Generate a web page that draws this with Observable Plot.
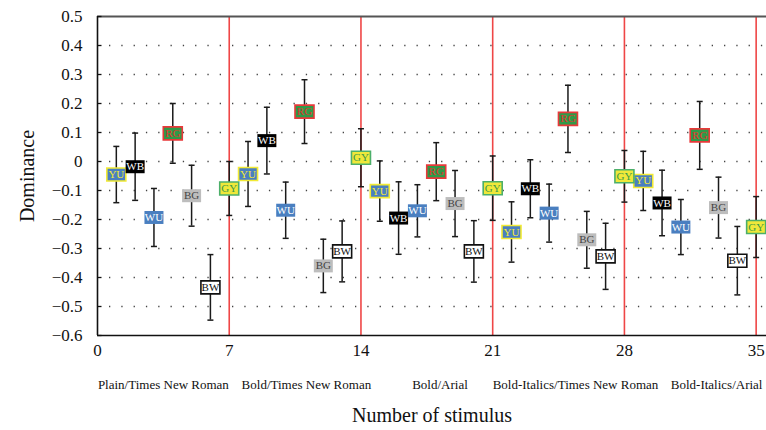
<!DOCTYPE html>
<html><head><meta charset="utf-8">
<script src="https://cdn.jsdelivr.net/npm/d3@7"></script>
<script src="https://cdn.jsdelivr.net/npm/@observablehq/plot@0.6"></script>
<style>body{margin:0;background:#fff}svg{display:block}svg text{font-family:"Liberation Serif","DejaVu Serif",serif !important;font-variant-numeric:normal !important}</style>
</head><body><div id="chart"></div>
<script>
// ---- data ----
const colorCodes = ["YU","WB","WU","RG","BG","BW","GY"];
const groupNames = ["Plain/Times New Roman","Bold/Times New Roman","Bold/Arial","Bold-Italics/Times New Roman","Bold-Italics/Arial"];
const groupLabelX = [3.5, 11.1, 18.2, 25.4, 32.9];
const separatorX = [7, 14, 21, 28, 35];
const xTicks = [0, 7, 14, 21, 28, 35];
const yTicks = [-0.6,-0.5,-0.4,-0.3,-0.2,-0.1,0,0.1,0.2,0.3,0.4,0.5];
const gridY = [-0.5,-0.4,-0.3,-0.2,-0.1,0,0.1,0.2,0.3,0.4];
const means = [
  -0.045,-0.018,-0.193, 0.097,-0.118,-0.434,-0.093,
  -0.043, 0.072,-0.168, 0.172,-0.360,-0.310, 0.013,
  -0.102,-0.195,-0.170,-0.035,-0.145,-0.310,-0.092,
  -0.243,-0.094,-0.178, 0.147,-0.270,-0.327,-0.051,
  -0.067,-0.143,-0.226, 0.090,-0.159,-0.342,-0.226
];
const errors = [
  0.097,0.116,0.100,0.103,0.105,0.113,0.093,
  0.112,0.115,0.097,0.110,0.092,0.105,0.100,
  0.104,0.125,0.090,0.100,0.114,0.106,0.111,
  0.104,0.100,0.100,0.116,0.098,0.114,0.089,
  0.102,0.113,0.095,0.117,0.105,0.118,0.105
];

// ---- styles ----
const styles = {
  YU:{fill:"#4a7fc0", stroke:"#f2ea35", text:"#f2ea35"},
  WB:{fill:"#000000", stroke:"none",    text:"#ffffff"},
  WU:{fill:"#4a7fc0", stroke:"none",    text:"#ffffff"},
  RG:{fill:"#2f9a48", stroke:"#e8393a", text:"#e0352f"},
  BG:{fill:"#bdbdbd", stroke:"none",    text:"#444444"},
  BW:{fill:"#ffffff", stroke:"#111111", text:"#111111"},
  GY:{fill:"#efe83a", stroke:"#4caf6a", text:"#3c9a48"}
};
const serif = "Liberation Serif, DejaVu Serif, serif";

const rows = means.map((m, i) => ({stim: i + 1, code: colorCodes[i % 7], mean: m, lo: m - errors[i], hi: m + errors[i]}));

const boxSymbol = {draw(ctx){ ctx.rect(-9.5, -6.5, 19, 13); }};
const capSymbol = {draw(ctx){ ctx.moveTo(-3, 0); ctx.lineTo(3, 0); }};
const yTickSymbol = {draw(ctx){ ctx.moveTo(0, 0); ctx.lineTo(4, 0); }};

const chart = Plot.plot({
  width: 766,
  height: 430,
  marginLeft: 97,
  marginRight: 0,
  marginTop: 16,
  marginBottom: 95,
  style: {fontFamily: serif, background: "#fff", color: "#111"},
  x: {domain: [0, 35.55]},
  y: {domain: [-0.6, 0.5]},
  marks: [
    Plot.ruleY(gridY, {stroke: "#444", strokeWidth: 1.3, strokeDasharray: "1.3,11", strokeDashoffset: -12}),
    Plot.ruleX(separatorX, {stroke: "#ef4646", strokeWidth: 1.6}),
    Plot.ruleY([0.5], {stroke: "#555", strokeWidth: 2}),
    Plot.ruleY([-0.6], {stroke: "#111", strokeWidth: 1.6}),
    Plot.ruleX([0], {stroke: "#111", strokeWidth: 1.6}),
    Plot.dot(yTicks, {x: 0, y: d => d, symbol: yTickSymbol, stroke: "#111", strokeWidth: 1.3, fill: "none"}),
    Plot.ruleX(rows, {x: "stim", y1: "lo", y2: "hi", stroke: "#1a1a1a", strokeWidth: 1.5}),
    Plot.dot(rows, {x: "stim", y: "lo", symbol: capSymbol, stroke: "#1a1a1a", strokeWidth: 1.5, fill: "none"}),
    Plot.dot(rows, {x: "stim", y: "hi", symbol: capSymbol, stroke: "#1a1a1a", strokeWidth: 1.5, fill: "none"}),
    ...colorCodes.flatMap(c => [
      Plot.dot(rows.filter(d => d.code === c), {x: "stim", y: "mean", symbol: boxSymbol, fill: styles[c].fill, stroke: styles[c].stroke, strokeWidth: 1.6}),
      Plot.text(rows.filter(d => d.code === c), {x: "stim", y: "mean", text: "code", fill: styles[c].text, fontSize: 11, fontFamily: serif})
    ]),
    Plot.axisY(yTicks, {tickSize: 0, tickPadding: 15, fontSize: 17, fontFamily: serif, tickFormat: d3.format(".1~f"),
      label: "Dominance", labelAnchor: "center", labelOffset: 78, labelArrow: "none"}),
    Plot.axisX(xTicks, {tickSize: 0, tickPadding: 8, fontSize: 17, fontFamily: serif,
      label: "Number of stimulus", labelAnchor: "center", labelOffset: 86, labelArrow: "none"}),
    Plot.axisX(groupLabelX, {tickSize: 0, tickPadding: 44, fontSize: 13, fontFamily: serif, label: null,
      tickFormat: d => groupNames[groupLabelX.indexOf(d)]})
  ]
});
// enlarge axis titles
d3.select(chart).selectAll("g[aria-label='y-axis label'], g[aria-label='x-axis label']").attr("font-size", 20);
d3.select(chart).selectAll("g[aria-label='y-axis label'] text, g[aria-label='x-axis label'] text").attr("font-size", 20);
document.getElementById("chart").appendChild(chart);
</script>
</body></html>
